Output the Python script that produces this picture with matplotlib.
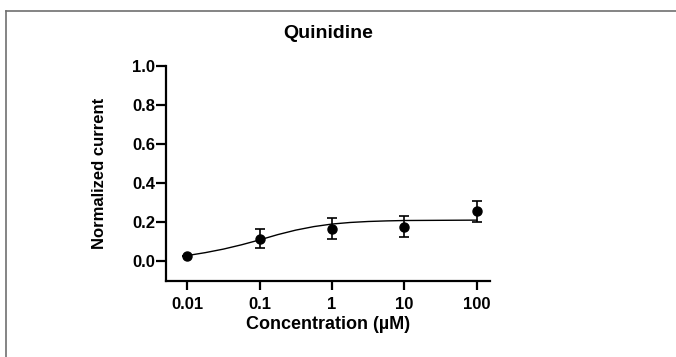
import matplotlib
matplotlib.use("Agg")
import matplotlib.pyplot as plt
from matplotlib.lines import Line2D
from matplotlib.ticker import FixedLocator, NullLocator

plt.rcParams["font.family"] = ["Liberation Sans", "DejaVu Sans"]

# mean +/- error
conc = [0.01, 0.1, 1, 10, 100]
current = [0.028, 0.117, 0.168, 0.178, 0.256]
err_lo = [0.0, 0.050, 0.054, 0.054, 0.056]
err_hi = [0.0, 0.048, 0.054, 0.055, 0.055]

fit_conc = [0.01, 0.0178, 0.0316, 0.0562, 0.1, 0.178, 0.316, 0.562, 1,
            1.78, 3.16, 5.62, 10, 31.6, 100]
fit_current = [0.030, 0.045, 0.063, 0.085, 0.110, 0.137, 0.160, 0.178, 0.191,
               0.199, 0.204, 0.207, 0.209, 0.210, 0.211]

x_ticks = [0.01, 0.1, 1, 10, 100]
x_ticklabels = ["0.01", "0.1", "1", "10", "100"]
y_ticks = [0.0, 0.2, 0.4, 0.6, 0.8, 1.0]

fig = plt.figure(figsize=(6.76, 3.57), dpi=100)
ax = fig.add_axes([0.2450, 0.2129, 0.4800, 0.6031])

ax.plot(fit_conc, fit_current, color="black", lw=1.0)
ax.errorbar(conc, current, yerr=[err_lo, err_hi], fmt="o", color="black",
            ms=6.5, elinewidth=1.2, capsize=3.5, capthick=1.2)

ax.set_xscale("log")
ax.set_xlim(10 ** -2.3, 10 ** 2.185)
ax.set_ylim(-0.1, 1.0)
ax.xaxis.set_major_locator(FixedLocator(x_ticks))
ax.xaxis.set_minor_locator(NullLocator())
ax.set_xticklabels(x_ticklabels)
ax.set_yticks(y_ticks)
ax.set_yticklabels([f"{v:.1f}" for v in y_ticks])

for side in ("top", "right"):
    ax.spines[side].set_visible(False)
for side in ("left", "bottom"):
    ax.spines[side].set_linewidth(1.6)
ax.tick_params(axis="x", length=6.5, width=1.6, labelsize=12, pad=5)
ax.tick_params(axis="y", length=7, width=1.6, labelsize=12, pad=0.5)
for lab in ax.get_xticklabels() + ax.get_yticklabels():
    lab.set_fontweight("bold")

ax.set_xlabel("Concentration (µM)", fontsize=13, fontweight="bold", labelpad=3)
ax.set_ylabel("Normalized current", fontsize=12, fontweight="bold", labelpad=18)
ax.set_title("Quinidine", fontsize=14, fontweight="bold", pad=20)

# thin grey frame along the top and left edges
x0, y0 = 6 / 676, 1 - 11 / 357
fig.add_artist(Line2D([x0, 1], [y0, y0], transform=fig.transFigure, color="#707070", lw=1.2))
fig.add_artist(Line2D([x0, x0], [0, y0], transform=fig.transFigure, color="#707070", lw=1.2))

fig.savefig("out.png", dpi=100)
